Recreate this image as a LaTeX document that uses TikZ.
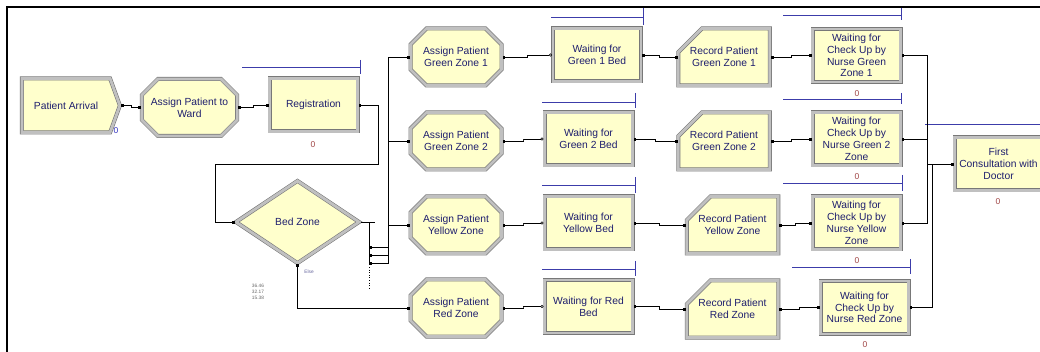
\documentclass[tikz,border=0pt]{standalone}
\usepackage{fontspec}
\setmainfont{Liberation Sans}
\usetikzlibrary{shapes.geometric,shapes.misc,shapes.symbols,arrows.meta,calc}
\definecolor{modfill}{RGB}{255,255,204}
\definecolor{bevlight}{RGB}{192,192,192}
\definecolor{bevdark}{RGB}{120,120,120}
\definecolor{modtext}{RGB}{30,30,110}
\definecolor{queueblue}{RGB}{60,60,170}
\definecolor{countred}{RGB}{160,70,70}
\definecolor{countblue}{RGB}{50,50,190}

\begin{document}
\begin{tikzpicture}[x=1pt, y=-1pt,
    module/.style={fill=modfill, draw=bevdark, double=bevlight, double distance=2.8pt,
        line width=0.6pt, text=modtext, font=\fontsize{10.3}{11.8}\selectfont,
        align=center, inner sep=1pt, outer sep=1pt},
    process/.style={module, rectangle, minimum width=88, minimum height=53},
    assign/.style={module, chamfered rectangle, chamfered rectangle xsep=8,
        chamfered rectangle ysep=8, minimum width=91, minimum height=57},
    record/.style={module, chamfered rectangle, chamfered rectangle corners=north west,
        chamfered rectangle xsep=13, chamfered rectangle ysep=13,
        minimum width=91, minimum height=57},
    create/.style={module, signal, signal to=east, signal pointer angle=140,
        minimum width=98, minimum height=54},
    decide/.style={module, diamond, minimum width=124, minimum height=83, inner sep=0pt},
    queue/.style={draw=queueblue, line width=0.8pt},
    count/.style={text=countred, font=\fontsize{8.5}{9}\selectfont},
    conn/.style={line width=0.6pt, {Square[length=2.4pt,width=2.4pt]}-{Square[length=2.4pt,width=2.4pt]}},
    seize/.style={line width=0.6pt, {Square[length=2.4pt,width=2.4pt]}-{Circle[open,length=3pt,width=3pt]}},
    jog/.style={to path={-| ($(\tikztostart)!.5!(\tikztotarget)$) |- (\tikztotarget) \tikztonodes}},
    tiny/.style={text=black!60, font=\fontsize{4.8}{5.8}\selectfont, align=left}
]
    \clip (0,0) rectangle (1040,352);

    % Frame
    \draw[line width=2.5pt] (7,352) -- (7,7) -- (1040,7);

    % Arrival and registration
    \node[create] (arrive) at (66,105.5) {Patient Arrival};
    \node[assign] (award) at (189.5,107.5) {Assign Patient to\\Ward};
    \node[process] (reg) at (313.5,105) {Registration};
    \node[decide] (bed) at (297.5,222) {Bed Zone};

    % Assign zones
    \node[assign] (ag1) at (456,57) {Assign Patient\\Green Zone 1};
    \node[assign] (ag2) at (456,141) {Assign Patient\\Green Zone 2};
    \node[assign] (ay) at (456,225) {Assign Patient\\Yellow Zone};
    \node[assign] (ar) at (456,308) {Assign Patient\\Red Zone};

    % Waiting for beds
    \node[process] (wg1) at (597,55) {Waiting for\\Green 1 Bed};
    \node[process] (wg2) at (588.5,139) {Waiting for\\Green 2 Bed};
    \node[process] (wy) at (588.5,223) {Waiting for\\Yellow Bed};
    \node[process] (wr) at (588.5,306.5) {Waiting for Red\\Bed};

    % Record
    \node[record] (rg1) at (724,57) {Record Patient\\Green Zone 1};
    \node[record] (rg2) at (724,141) {Record Patient\\Green Zone 2};
    \node[record] (ry) at (732.5,225) {Record Patient\\Yellow Zone};
    \node[record] (rr) at (732.5,309) {Record Patient\\Red Zone};

    % Nurse check up
    \node[process] (ng1) at (856.5,55.5) {Waiting for\\Check Up by\\Nurse Green\\Zone 1};
    \node[process] (ng2) at (856.5,139) {Waiting for\\Check Up by\\Nurse Green 2\\Zone};
    \node[process] (ny) at (856.5,223) {Waiting for\\Check Up by\\Nurse Yellow\\Zone};
    \node[process] (nr) at (864.5,307.5) {Waiting for\\Check Up by\\Nurse Red Zone};

    % Doctor
    \node[process] (doc) at (998.5,164) {First\\Consultation with\\Doctor};

    % Queues
    \draw[queue] (242,67) -- (360,67) (360,60) -- (360,74);
    \draw[queue] (551,17) -- (643,17) (643,8) -- (643,25);
    \draw[queue] (542,102) -- (635,102) (635,93) -- (635,108);
    \draw[queue] (542,185) -- (635,185) (635,177) -- (635,193);
    \draw[queue] (542,269) -- (635,269) (635,261) -- (635,276);
    \draw[queue] (783,15) -- (901,15) (901,8) -- (901,20);
    \draw[queue] (783,99) -- (901,99) (901,93) -- (901,104);
    \draw[queue] (783,183) -- (902,183) (902,175) -- (902,191);
    \draw[queue] (792,267) -- (910,267) (910,259) -- (910,274);
    \draw[queue] (925,124) -- (1040,124);

    % Counters
    \node[count, text=countblue] (c0) at (116,131) {0};
    \node[count] (c1) at (313,145) {0};
    \node[count] (c2) at (857,94) {0};
    \node[count] (c3) at (857,177) {0};
    \node[count] (c4) at (857,261) {0};
    \node[count] (c5) at (865,345) {0};
    \node[count] (c6) at (998,202) {0};

    % Decide labels
    \node[tiny] (pct) at (258,292) {36.46\\32.17\\15.38};
    \node[tiny, text=modtext!70] (else) at (309,272) {Else};

    % Route points
    \coordinate (loopR) at (378,164);
    \coordinate (loopL) at (215,164);
    \coordinate (bus) at (388,0);
    \coordinate (br1) at (369,247);
    \coordinate (br2) at (369,255);
    \coordinate (br3) at (369,263);
    \coordinate (trunkA) at (927,164);
    \coordinate (trunkB) at (932,164);

    % Connections
    \draw[conn] (arrive.east) to[jog] (award.west);
    \draw[conn] (award.east) to[jog] (reg.west);
    \draw[conn] (reg.east) -| (loopR) -- (loopL) |- (bed.west);
    \draw[line width=0.6pt] (bed.east) -- ++(14,0);
    \draw[line width=0.6pt] (369,223) -- (br3);
    \draw[line width=0.6pt, dotted] (369,267) -- (369,290);
    \draw[conn] (br1) -- (br1 -| bus) |- (ag1.west);
    \draw[conn] (br2) -- (br2 -| bus) |- (ag2.west);
    \draw[conn] (br3) -- (br3 -| bus) |- (ay.west);
    \draw[conn] (bed.south) |- (ar.west);

    \foreach \a/\w in {ag1/wg1, ag2/wg2, ay/wy, ar/wr}
        \draw[seize] (\a.east) to[jog] (\w.west);
    \foreach \w/\r in {wg1/rg1, wg2/rg2, wy/ry, wr/rr}
        \draw[conn] (\w.east) to[jog] (\r.west);
    \foreach \r/\n in {rg1/ng1, rg2/ng2, ry/ny, rr/nr}
        \draw[conn] (\r.east) to[jog] (\n.west);

    \foreach \n in {ng1, ng2, ny}
        \draw[conn] (\n.east) -| (trunkA) -- (doc.west);
    \draw[conn] (nr.east) -| (trunkB) -- (doc.west);
\end{tikzpicture}
\end{document}
